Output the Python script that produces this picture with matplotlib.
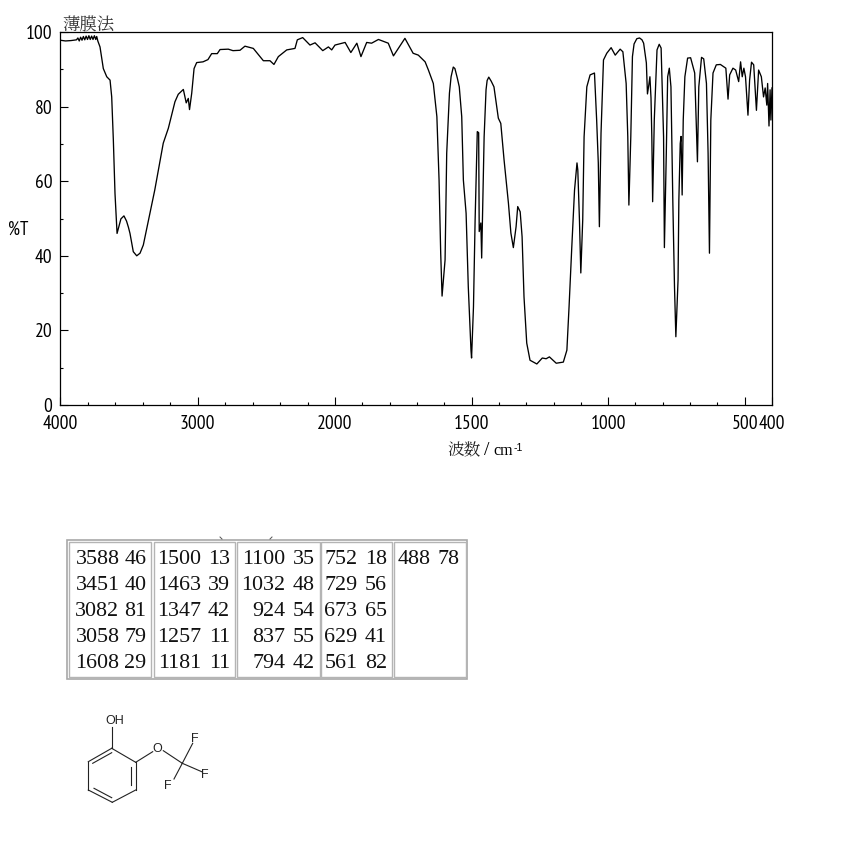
import numpy as np
import matplotlib
matplotlib.use("Agg")
import matplotlib.pyplot as plt
from matplotlib.patches import Rectangle

# spectrum
wavenumber = [4000, 3960, 3920, 3880, 3870, 3860, 3850, 3840, 3830, 3820, 3810, 3800, 3790, 3780, 3770, 3760,
              3750, 3740, 3733, 3725, 3709, 3685, 3660, 3636, 3624, 3612, 3600, 3585, 3572, 3557, 3535, 3516, 3502, 3491,
              3467, 3442, 3418, 3394, 3345, 3311, 3249, 3212, 3164, 3140, 3103, 3082, 3067, 3058, 3042, 3025, 3006,
              2960, 2924, 2897, 2856, 2836, 2776, 2742, 2691, 2655, 2594, 2521, 2473, 2444, 2412, 2351, 2291,
              2274, 2235, 2182, 2145, 2089, 2048, 2024, 2000, 1963, 1942, 1920, 1905, 1884, 1866, 1841, 1805,
              1786, 1744, 1714, 1695, 1670, 1658, 1640, 1627, 1619, 1613, 1608, 1597, 1591, 1581, 1575, 1567, 1561,
              1552, 1545, 1536, 1530, 1520, 1512, 1502, 1500, 1493, 1487, 1479, 1474, 1472, 1466, 1463, 1454, 1447,
              1443, 1437, 1428, 1418, 1402, 1393, 1381, 1365, 1356, 1347, 1337, 1331, 1322, 1315, 1308, 1298, 1286, 1261,
              1241, 1227, 1215, 1190, 1164, 1151, 1143, 1133, 1123, 1114, 1111, 1105, 1100, 1093, 1088, 1078,
              1066, 1050, 1042, 1036, 1032, 1026, 1017, 1005, 989, 974, 956, 946, 934, 928, 924, 917,
              911, 905, 895, 885, 876, 870, 860, 856, 851, 847, 843, 840, 837, 831, 821, 813, 806, 797,
              794, 787, 782, 776, 770, 763, 757, 752, 744, 741, 736, 733, 729, 725, 719, 709,
              698, 683, 673, 668, 658, 650, 640, 634, 629, 624, 616, 604, 589, 569, 561, 555,
              543, 533, 522, 515, 509, 503, 497, 488, 482, 475, 467, 457, 449, 439, 431, 425,
              419, 416, 411, 407, 404, 400]
transmittance = [97.8, 97.6, 97.7, 97.9, 98.4, 97.6, 98.6, 97.8, 98.8, 97.9, 98.9, 98.0, 99.0, 98.0, 98.9, 98.0,
                 99.0, 98.0, 98.8, 97.6, 96.0, 90.2, 88.0, 87.1, 82.6, 71.0, 56.7, 46.0, 47.8, 49.9, 50.7, 49.3, 47.6, 46.0,
                 41.1, 40.0, 40.7, 42.9, 51.5, 57.6, 70.2, 74.2, 81.3, 83.3, 84.6, 81.0, 82.2, 79.2, 83.6, 90.2, 91.8,
                 92.0, 92.6, 94.2, 94.2, 95.3, 95.4, 95.0, 95.1, 96.2, 95.6, 92.3, 92.3, 91.3, 93.4, 95.2, 95.6,
                 97.9, 98.5, 96.5, 97.1, 95.0, 96.0, 95.2, 96.5, 97.2, 94.5, 97.0, 93.4, 97.2, 97.0, 98.0, 97.0,
                 93.6, 98.3, 94.3, 93.8, 92.0, 89.8, 86.2, 77.3, 60.3, 40.7, 29.2, 38.9, 67.5, 83.6, 88.0, 90.6, 90.2,
                 87.6, 85.3, 77.3, 60.3, 51.4, 31.7, 14.5, 12.6, 26.3, 49.6, 73.3, 73.0, 46.5, 48.8, 39.4, 71.9, 84.5,
                 87.0, 87.9, 86.8, 85.3, 76.9, 75.5, 65.7, 54.1, 46.1, 42.2, 47.8, 53.2, 51.8, 45.1, 29.0, 16.6, 12.0, 11.0,
                 12.6, 12.4, 12.9, 11.2, 11.5, 14.7, 26.4, 42.4, 57.6, 64.9, 63.0, 49.6, 35.4, 49.6, 71.9, 85.3,
                 88.5, 89.0, 76.4, 64.9, 47.8, 72.9, 92.5, 94.3, 95.8, 93.8, 95.4, 94.7, 86.2, 71.9, 53.6, 71.9,
                 93.4, 96.8, 98.2, 98.4, 97.9, 97.0, 91.7, 83.4, 85.8, 88.0, 82.3, 71.9, 54.5, 76.4, 95.2, 96.7, 95.7, 71.9,
                 42.2, 67.5, 88.0, 90.3, 85.3, 54.1, 31.7, 18.3, 33.5, 55.0, 70.1, 72.0, 56.3, 76.4, 88.0, 93.0,
                 93.1, 89.0, 65.2, 85.3, 93.2, 92.8, 86.2, 67.5, 40.7, 76.4, 89.0, 91.2, 91.3, 90.3, 82.0, 88.5,
                 90.3, 89.8, 86.7, 92.0, 88.0, 90.3, 88.0, 77.7, 87.1, 91.9, 91.2, 79.0, 89.8, 88.0, 82.6, 85.0,
                 80.4, 86.2, 74.8, 84.5, 76.4, 85.0]

x_major = [4000, 3000, 2000, 1500, 1000, 500]
x_labels = ["4000", "3000", "2000", "1500", "1000", "500", "400"]
y_major = [0, 20, 40, 60, 80, 100]
y_minor = [10, 30, 50, 70, 90]

# peak table, one list per column
peak_wn = [["3588", "3451", "3082", "3058", "1608"],
           ["1500", "1463", "1347", "1257", "1181"],
           ["1100", "1032", "924", "837", "794"],
           ["752", "729", "673", "629", "561"],
           ["488"]]
peak_t = [["46", "40", "81", "79", "29"],
          ["13", "39", "42", "11", "11"],
          ["35", "48", "54", "55", "42"],
          ["18", "56", "65", "41", "82"],
          ["78"]]

NARROW = ["PT Sans Narrow", "Archivo Narrow", "Liberation Sans", "DejaVu Sans"]
CJK = ["Noto Serif CJK JP", "Noto Sans CJK JP", "DejaVu Sans"]


# axis is piecewise: 2000-400 is drawn at twice the scale of 4000-2000
def fwd(x):
    return np.interp(x, [400, 2000, 4000], [0, 437, 712])


def inv(p):
    return np.interp(p, [0, 437, 712], [400, 2000, 4000])


fig = plt.figure(figsize=(8.5, 8.5), dpi=100, facecolor="white")
W = H = 850.0

ax = fig.add_axes([60 / W, 1 - 405 / H, 712 / W, 373 / H])
ax.set_xscale("function", functions=(fwd, inv))
ax.set_xlim(4000, 400)
ax.set_ylim(0, 100)
ax.plot(wavenumber, transmittance, color="black", lw=0.95)

ax.set_xticks(x_major + [400])
ax.set_xticklabels(x_labels, family=NARROW, fontsize=14)
minors = [w for w in range(3800, 2000, -200)] + [w for w in range(1900, 400, -100)]
ax.set_xticks([w for w in minors if w not in x_major], minor=True)
ax.set_yticks(y_major)
ax.set_yticklabels([str(v) for v in y_major], family=NARROW, fontsize=14)
ax.set_yticks(y_minor, minor=True)
ax.tick_params(axis="both", which="major", direction="in", length=5.5, width=0.8)
ax.tick_params(axis="both", which="minor", direction="in", length=2.5, width=0.8)
ax.tick_params(axis="y", which="major", pad=5.5)
ax.tick_params(axis="x", which="major", pad=7.5)
for s in ax.spines.values():
    s.set_linewidth(0.9)

# overlay in picture pixels for the loose text, the table and the structure
ov = fig.add_axes([0, 0, 1, 1])
ov.set_xlim(0, W)
ov.set_ylim(H, 0)
ov.axis("off")

ov.text(62, 30, "薄膜法", family=CJK, fontsize=12.5, color="#333333", ha="left", va="baseline")
ov.text(8, 235, "%T", family=NARROW, fontsize=13.5, ha="left", va="baseline")
ov.text(447, 455, "波数", family=CJK, fontsize=12, ha="left", va="baseline", color="#222222")
ov.text(484, 455, "/", family="Liberation Serif", fontsize=14, ha="left", va="baseline")
ov.text(493, 455, "cm", family="Liberation Serif", fontsize=11.5, ha="left", va="baseline")
ov.text(514, 451, "-1", family="Liberation Sans", fontsize=7.5, ha="left", va="baseline")

# peak table
ov.add_patch(Rectangle((67.5, 540), 400, 139, fill=False, ec="#a8a8a8", lw=1.2))
cell_l = [69.5, 154, 237.5, 321.5, 394.5]
cell_r = [151.5, 235.5, 320, 392.5, 466]
wn_right = [119.5, 201.5, 285.5, 357.5, 431]
t_right = [146.5, 230, 314.5, 387, 460]
rows = [557.5, 583.5, 609.5, 635.5, 661.5]
for c in range(5):
    ov.add_patch(Rectangle((cell_l[c], 542), cell_r[c] - cell_l[c], 135, fill=False, ec="#b4b4b4", lw=1.0))
    for r in range(len(peak_wn[c])):
        ov.text(wn_right[c], rows[r], peak_wn[c][r], family="Liberation Serif", fontsize=15.8,
                ha="right", va="center_baseline", color="#111111")
        ov.text(t_right[c], rows[r], peak_t[c][r], family="Liberation Serif", fontsize=15.8,
                ha="right", va="center_baseline", color="#111111")
ov.plot([220, 222], [537, 539], color="#555555", lw=0.7)
ov.plot([272, 270], [537, 539], color="#555555", lw=0.7)

# structure
bonds = [((111.7, 748.3), (135.7, 762.3)), ((135.7, 762.3), (135.7, 790)), ((135.7, 790), (112.3, 802.3)),
         ((112.3, 802.3), (88.3, 790)), ((88.3, 790), (88.3, 761.7)), ((88.3, 761.7), (111.7, 748.3)),
         ((92.7, 763.3), (111.7, 752.7)), ((130.7, 766.7), (130.7, 785)), ((94, 788.3), (111.7, 797.7)),
         ((111.7, 748.3), (111.7, 726.7)), ((135.7, 762.3), (152.7, 751.7)), ((163.3, 750.7), (182.3, 763.3)),
         ((182.3, 763.3), (192.7, 743.3)), ((182.3, 763.3), (201.7, 771.7)), ((182.3, 763.3), (174, 779))]
for a, b in bonds:
    ov.plot([a[0], b[0]], [a[1], b[1]], color="#222222", lw=0.8)
atoms = [("OH", 114.5, 720.5), ("O", 157.5, 748.5), ("F", 195, 738.5), ("F", 205, 775.5), ("F", 168, 786)]
for name, px, py in atoms:
    ov.text(px, py, name, family="Liberation Sans", fontsize=9, ha="center", va="center", color="#222222")

fig.savefig("out.png", dpi=100, facecolor="white")
